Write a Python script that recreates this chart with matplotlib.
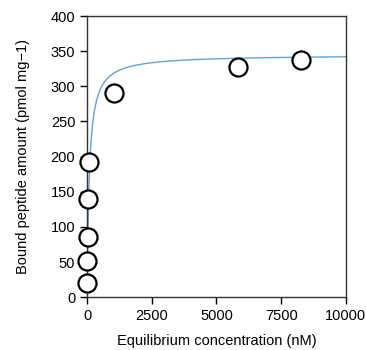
import numpy as np
import matplotlib
matplotlib.use("Agg")
import matplotlib.pyplot as plt

plt.rcParams['font.family'] = ['Liberation Sans', 'DejaVu Sans']

# measured points
conc = [5, 10, 20, 40, 80, 1040, 5830, 8260]
bound = [20, 51, 85, 139, 192, 290, 327, 337]

# fitted one-site binding curve
bmax = 345
kd = 85


def main():
    fig = plt.figure(figsize=(3.66, 3.5), dpi=100)
    ax = fig.add_axes([0.238, 0.151, 0.707, 0.803])

    x_fit = np.linspace(0, 10000, 4000)
    y_fit = bmax * x_fit / (kd + x_fit)
    ax.plot(x_fit, y_fit, color='#62a5d4', lw=1.0, zorder=2)
    ax.plot(conc, bound, 'o', ms=13, mfc='white', mec='black', mew=1.6,
            zorder=3, clip_on=False)

    ax.set_xlim(0, 10000)
    ax.set_ylim(0, 400)
    ax.set_xticks([0, 2500, 5000, 7500, 10000])
    ax.set_yticks(range(0, 401, 50))
    ax.tick_params(direction='out', length=5, width=1, labelsize=10.5,
                   colors='black')
    for s in ax.spines.values():
        s.set_color('#333333')
        s.set_linewidth(1.0)

    ax.set_xlabel('Equilibrium concentration (nM)', fontsize=10.5,
                  labelpad=8)
    ax.set_ylabel('Bound peptide amount (pmol mg\u22121)', fontsize=10.5)
    ax.yaxis.set_label_coords(-0.22, 0.5)

    fig.savefig('out.png', dpi=100)


if __name__ == "__main__":
    main()
